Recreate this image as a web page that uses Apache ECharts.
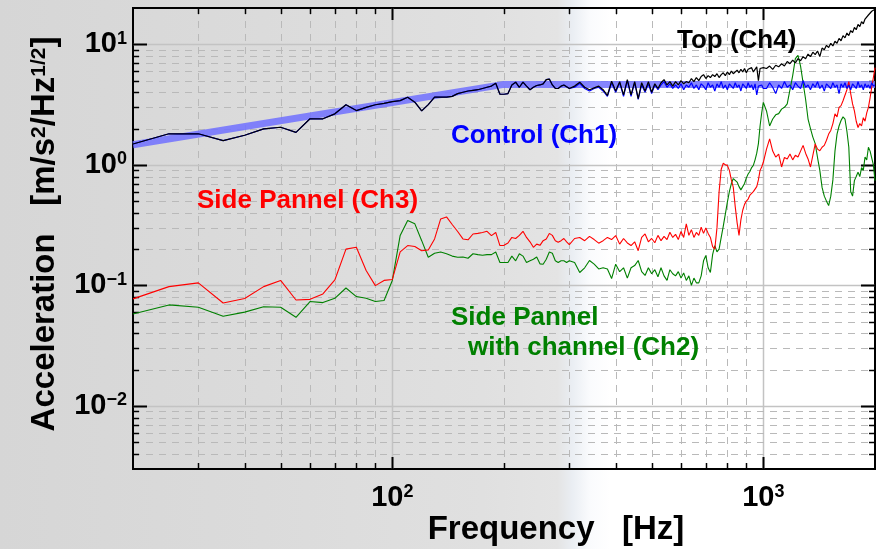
<!DOCTYPE html>
<html><head><meta charset="utf-8">
<script src="https://cdn.jsdelivr.net/npm/echarts@6/dist/echarts.min.js"></script>
<style>
html,body{margin:0;padding:0;background:#ffffff;}
#c{width:878px;height:549px;background-color:#ffffff;background-image:linear-gradient(90deg,#d6d6d6 0%,#dbdbdb 30%,#e0e0e0 55%,#e4e4e4 63.5%,#eaeef3 65.2%,#fafbfd 67.2%,#ffffff 69.5%,#ffffff 100%);}
</style></head><body><div id="c"></div>
<script>
// ---------- frequency grid (Hz) ----------
const freqLow = [20,25,30,35,40,45,50,55,60,65,70,75,80,85,90,95,100,105,110,115,120,125,130,135,140,145,150,155,160,165,170,175,180,185,190,195,200,205,210,215,220,225,230,235,240,245,250,255,260,265,270,275,280,285,290,295,300];
const freqMid = [310,320,330,340,350,360,370,380,390,400,410,420,430,440,450,460,470,480,490,500,510,520,530,540,550,560,570,580,590,600,610,620,630,640,650,660,670,680,690,700,710,720,730,740,750,760,770,780,790,800,810,820,830,840,850,860,870,880,890,900,910,920,930,940,950,960,970,980,990,1000];
const freqHigh = [1020,1040,1060,1080,1100,1120,1140,1160,1180,1200,1220,1240,1260,1280,1300,1320,1340,1360,1380,1400,1420,1440,1460,1480,1500,1520,1540,1560,1580,1600,1620,1640,1660,1680,1700,1720,1740,1760,1780,1800,1820,1840,1860,1880,1900,1920,1940,1960,1980,2000];

// ---------- Top (Ch4), black ----------
const ch4Low = [1.49,1.81,1.81,1.59,1.76,1.99,2.05,1.86,2.41,2.41,2.65,3.15,2.82,3.0,3.15,3.24,3.35,3.41,3.64,3.31,2.8,3.16,3.64,3.64,3.64,3.7,3.9,4.0,4.1,4.15,4.2,4.3,4.4,4.5,4.75,3.85,3.85,3.9,4.6,4.85,4.4,4.85,4.5,4.2,4.4,4.55,4.6,4.7,5.1,5.15,4.6,4.3,4.3,4.5,4.6,4.45,4.3];
const ch4Mid = [4.5,4.85,4.4,4.2,4.35,4.5,4.2,3.76,4.95,4.1,4.9,3.8,5.1,3.8,4.9,3.55,4.8,4.1,4.9,4.0,4.7,4.3,4.8,5.1,4.6,4.9,4.5,4.9,4.6,5.0,4.7,4.9,4.8,5.2,4.9,5.3,5.0,5.4,5.6,5.2,5.5,5.3,5.6,5.4,5.7,5.3,5.6,5.8,5.5,5.9,5.6,6.0,5.7,5.9,6.1,5.8,6.2,5.9,6.3,5.8,6.2,6.0,6.4,5.9,6.1,6.5,5.0,6.3,6.2,6.4];
const ch4High = [6.3,6.6,6.2,6.7,6.5,6.9,6.6,7.2,6.9,7.4,7.0,7.6,7.3,7.9,7.6,8.3,7.9,8.6,8.2,8.8,7.9,9.3,9.0,9.8,9.4,10.2,9.7,10.6,10.2,11.2,10.7,11.8,11.3,12.4,11.8,13.0,12.5,13.8,13.2,14.6,14.0,15.4,14.8,16.2,15.8,17.5,17.0,18.8,18.2,19.5];

// ---------- Control (Ch1), blue ----------
const ch1Low = ch4Low;
const ch1Mid = [4.4,4.75,4.3,4.1,4.3,4.4,4.1,3.7,4.8,4.0,4.8,3.7,5.0,3.7,4.8,3.5,4.6,4.0,4.7,3.9,4.6,4.2,4.6,4.9,4.4,4.7,4.3,4.6,4.3,4.7,4.2,4.6,4.4,4.8,4.3,4.6,4.2,4.7,4.5,4.2,4.8,4.4,4.6,4.1,4.7,4.4,4.9,4.3,4.6,4.2,4.7,4.5,4.3,4.8,4.4,4.6,4.1,4.7,4.5,4.3,4.8,4.4,4.6,4.2,4.7,3.8,4.5,4.4,4.6,4.3];
const ch1High = [4.3,4.8,4.4,3.9,4.6,4.3,4.9,4.4,4.6,4.2,4.8,4.5,4.3,5.0,4.4,4.6,4.2,4.7,4.4,4.9,4.3,4.6,4.1,4.7,4.5,4.3,4.8,4.4,4.6,3.9,4.7,4.4,4.8,4.3,4.6,4.2,4.7,4.5,4.3,4.9,4.4,4.6,4.2,4.7,4.4,4.6,4.3,4.8,4.5,4.6];

// ---------- Control reference profile (thick band) ----------
const bandFreq = [20, 200, 2000];
const bandVal = [1.47, 4.65, 4.65];

// ---------- Side Pannel (Ch3), red ----------
const ch3Low = [0.0773,0.0977,0.105,0.0715,0.078,0.0977,0.11,0.0757,0.0766,0.085,0.111,0.2,0.207,0.133,0.0996,0.11,0.112,0.19,0.214,0.21,0.194,0.197,0.243,0.356,0.37,0.32,0.28,0.243,0.239,0.267,0.27,0.275,0.281,0.259,0.275,0.214,0.215,0.225,0.25,0.245,0.26,0.281,0.25,0.23,0.207,0.22,0.215,0.235,0.243,0.27,0.26,0.235,0.228,0.235,0.245,0.23,0.218];
const ch3Mid = [0.245,0.25,0.235,0.255,0.24,0.224,0.235,0.25,0.24,0.259,0.22,0.245,0.225,0.214,0.23,0.194,0.25,0.267,0.23,0.245,0.226,0.26,0.235,0.255,0.24,0.276,0.25,0.265,0.24,0.28,0.25,0.324,0.26,0.29,0.25,0.275,0.26,0.304,0.27,0.3,0.27,0.25,0.21,0.2,0.3,0.6,0.92,1.03,1.0,0.99,0.9,0.75,0.65,0.45,0.33,0.26,0.35,0.42,0.47,0.5,0.52,0.56,0.55,0.6,0.62,0.66,0.75,0.9,0.96,1.05];
const ch3High = [1.35,1.64,1.3,1.16,1.23,0.96,1.15,1.12,1.23,1.1,1.2,1.16,1.3,1.45,1.25,1.12,0.96,1.2,1.49,1.35,1.31,1.4,1.45,1.6,1.8,1.93,2.2,2.65,2.5,3.0,3.1,3.4,3.5,4.2,4.9,3.9,3.2,2.8,2.3,2.04,2.2,2.1,2.46,2.3,2.7,3.0,3.6,4.4,5.3,6.4];

// ---------- Side Pannel with channel (Ch2), green ----------
const ch2Low = [0.058,0.0689,0.0658,0.0554,0.06,0.0666,0.0658,0.0544,0.0735,0.072,0.0782,0.0952,0.0808,0.0782,0.0735,0.075,0.11,0.26,0.345,0.324,0.235,0.171,0.185,0.189,0.183,0.175,0.171,0.172,0.168,0.183,0.18,0.178,0.18,0.18,0.189,0.155,0.155,0.155,0.175,0.16,0.183,0.175,0.155,0.16,0.165,0.172,0.151,0.15,0.165,0.189,0.185,0.16,0.155,0.16,0.16,0.155,0.16];
const ch2Mid = [0.155,0.128,0.14,0.161,0.15,0.137,0.14,0.137,0.114,0.15,0.13,0.14,0.115,0.14,0.146,0.161,0.13,0.121,0.14,0.125,0.135,0.118,0.14,0.12,0.11,0.135,0.125,0.12,0.13,0.115,0.127,0.11,0.12,0.1,0.115,0.105,0.105,0.12,0.16,0.177,0.14,0.128,0.18,0.214,0.19,0.2,0.25,0.31,0.39,0.49,0.6,0.7,0.77,0.79,0.72,0.66,0.62,0.64,0.7,0.78,0.84,0.88,0.95,0.99,1.1,1.25,1.5,2.1,2.7,3.3];
const ch2High = [2.8,2.1,2.4,2.6,2.66,2.9,3.0,3.2,4.2,5.5,7.6,8.1,6.6,4.8,3.5,2.4,2.0,1.7,1.5,1.15,0.9,0.65,0.55,0.5,0.46,0.55,0.75,1.3,1.8,2.1,2.33,2.5,2.4,1.9,1.4,0.6,0.55,0.74,0.8,0.87,0.8,0.95,0.9,1.16,1.1,1.4,1.3,1.35,1.0,0.74];

// ---------- axis ticks / grid values ----------
const xMajorTicks = [100, 1000];
const xMinorTicks = [30,40,50,60,70,80,90,200,300,400,500,600,700,800,900];
const yMajorTicks = [0.01, 0.1, 1, 10];
const yMinorTicks = [0.004,0.005,0.006,0.007,0.008,0.009,0.02,0.03,0.04,0.05,0.06,0.07,0.08,0.09,0.2,0.3,0.4,0.5,0.6,0.7,0.8,0.9,2,3,4,5,6,7,8,9];

// ---------- labels ----------
const labelCh4 = 'Top (Ch4)';
const labelCh1 = 'Control (Ch1)';
const labelCh3 = 'Side Pannel (Ch3)';
const labelCh2a = 'Side Pannel';
const labelCh2b = 'with channel (Ch2)';

const FONT = '"Liberation Sans", Arial, Helvetica, sans-serif';
const freq = freqLow.concat(freqMid, freqHigh);
function pairs(xs, ys){ return xs.map(function(x,i){ return [x, ys[i]]; }); }
const ch4 = ch4Low.concat(ch4Mid, ch4High);
const ch1 = ch1Low.concat(ch1Mid, ch1High);
const ch3 = ch3Low.concat(ch3Mid, ch3High);
const ch2 = ch2Low.concat(ch2Mid, ch2High);

const gridItems = []
  .concat(xMinorTicks.map(function(v){return [v, 1, 0];}))
  .concat(xMajorTicks.map(function(v){return [v, 1, 1];}))
  .concat(yMinorTicks.map(function(v){return [100, v, 2];}))
  .concat(yMajorTicks.map(function(v){return [100, v, 3];}));

function powLabel(v){
  const l = Math.log10(v);
  const e = Math.round(l);
  if (Math.abs(l - e) > 1e-6) return '';
  return '{b|10}{s|' + (e < 0 ? '\u2212' + (-e) : String(e)) + '}';
}
const labelRich = {
  b: {fontSize: 29, fontWeight: 'bold', fontFamily: FONT, color: '#000'},
  s: {fontSize: 18, fontWeight: 'bold', fontFamily: FONT, color: '#000', verticalAlign: 'top', padding: [0,0,10,0]}
};

const chart = echarts.init(document.getElementById('c'), null, {renderer: 'canvas'});
const lineBase = {type: 'line', showSymbol: false, symbol: 'none', silent: true, animation: false};

chart.setOption({
  animation: false,
  backgroundColor: 'transparent',
  grid: {left: 133, right: 3, top: 8, bottom: 80, show: true, borderColor: '#000', borderWidth: 2, backgroundColor: 'transparent'},
  xAxis: {
    type: 'log', logBase: 10, min: 20, max: 2000,
    axisLine: {show: false}, axisTick: {show: false}, splitLine: {show: false},
    axisLabel: {margin: 14, formatter: powLabel, rich: labelRich, showMinLabel: false, showMaxLabel: false}
  },
  yAxis: {
    type: 'log', logBase: 10, min: 0.003, max: 20,
    axisLine: {show: false}, axisTick: {show: false}, splitLine: {show: false},
    axisLabel: {margin: 6, formatter: powLabel, rich: labelRich, showMinLabel: false, showMaxLabel: false}
  },
  series: [
    {
      type: 'custom', z: 1, silent: true, clip: false,
      encode: {x: 0, y: 1},
      data: gridItems,
      renderItem: function(params, api){
        const cs = params.coordSys;
        const kind = api.value(2);
        const left = cs.x, right = cs.x + cs.width, top = cs.y, bottom = cs.y + cs.height;
        const major = (kind === 1 || kind === 3);
        const gs = major ? {stroke: '#c3c3c3', lineWidth: 1.5} : {stroke: '#b9b9b9', lineWidth: 1, lineDash: [7, 6]};
        const ts = {stroke: '#000', lineWidth: major ? 2 : 1.5};
        if (kind < 2) {
          const x = Math.round(api.coord([api.value(0), 1])[0]) + 0.5;
          const len = major ? 12 : 6;
          return {type: 'group', children: [
            {type: 'line', shape: {x1: x, y1: top, x2: x, y2: bottom}, style: gs},
            {type: 'line', shape: {x1: x, y1: bottom, x2: x, y2: bottom - len}, style: ts},
            {type: 'line', shape: {x1: x, y1: top, x2: x, y2: top + len}, style: ts}
          ]};
        } else {
          const y = Math.round(api.coord([100, api.value(1)])[1]) + 0.5;
          const len = major ? 14 : 6;
          return {type: 'group', children: [
            {type: 'line', shape: {x1: left, y1: y, x2: right, y2: y}, style: gs},
            {type: 'line', shape: {x1: left, y1: y, x2: left + len, y2: y}, style: ts},
            {type: 'line', shape: {x1: right, y1: y, x2: right - len, y2: y}, style: ts}
          ]};
        }
      }
    },
    Object.assign({}, lineBase, {name: 'Control profile', z: 2, data: pairs(bandFreq, bandVal),
      lineStyle: {width: 7, color: 'rgba(112,112,255,0.85)'}}),
    Object.assign({}, lineBase, {name: 'Ch2', z: 3, data: pairs(freq, ch2),
      lineStyle: {width: 1.1, color: '#008000'}}),
    Object.assign({}, lineBase, {name: 'Ch3', z: 4, data: pairs(freq, ch3),
      lineStyle: {width: 1.1, color: '#ff0000'}}),
    Object.assign({}, lineBase, {name: 'Ch1', z: 5, data: pairs(freq, ch1),
      lineStyle: {width: 1.2, color: '#0000ff'}}),
    Object.assign({}, lineBase, {name: 'Ch4', z: 6, data: pairs(freq, ch4),
      lineStyle: {width: 1.2, color: '#000000'}})
  ],
  graphic: [
    {type: 'text', x: 677, y: 41, z: 10, style: {text: labelCh4, font: 'bold 26px ' + FONT, fill: '#000', align: 'left', verticalAlign: 'middle'}},
    {type: 'text', x: 451, y: 136, z: 10, style: {text: labelCh1, font: 'bold 26px ' + FONT, fill: '#0000ff', align: 'left', verticalAlign: 'middle'}},
    {type: 'text', x: 197, y: 201, z: 10, style: {text: labelCh3, font: 'bold 26px ' + FONT, fill: '#ff0000', align: 'left', verticalAlign: 'middle'}},
    {type: 'text', x: 451, y: 318, z: 10, style: {text: labelCh2a, font: 'bold 26px ' + FONT, fill: '#008000', align: 'left', verticalAlign: 'middle'}},
    {type: 'text', x: 468, y: 348, z: 10, style: {text: labelCh2b, font: 'bold 26px ' + FONT, fill: '#008000', align: 'left', verticalAlign: 'middle'}},
    {type: 'text', x: 556, y: 530, z: 10, style: {text: 'Frequency   [Hz]', font: 'bold 33px ' + FONT, fill: '#000', align: 'center', verticalAlign: 'middle'}},
    {type: 'text', x: 45, y: 234, rotation: Math.PI / 2, z: 10, style: {
      text: '{a|Acceleration   [m/s}{s|2}{a|/Hz}{s|1/2}{a|]}',
      align: 'center', verticalAlign: 'middle',
      rich: {
        a: {font: 'bold 33px ' + FONT, fill: '#000', fontSize: 33, fontWeight: 'bold', fontFamily: FONT},
        s: {font: 'bold 21px ' + FONT, fill: '#000', fontSize: 21, fontWeight: 'bold', fontFamily: FONT, verticalAlign: 'top', padding: [0,0,12,0]}
      }
    }}
  ]
});
</script></body></html>
